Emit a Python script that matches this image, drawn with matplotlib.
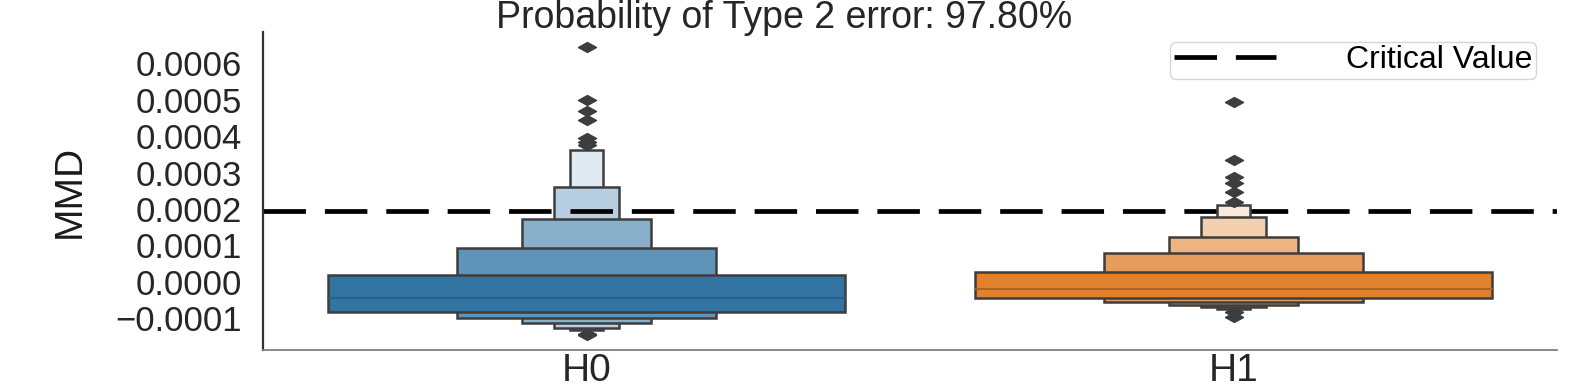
# -*- coding: UTF-8 -*-
import numpy as np
import matplotlib
matplotlib.use('Agg')
import matplotlib.pyplot as plt
from matplotlib.patches import Rectangle
from matplotlib.ticker import MultipleLocator, FuncFormatter

# 数据：每一层 letter-value 的上下界（从最内层到最外层）
groups = ['H0', 'H1']

h0_lower = [-8.2e-5, -1.00e-4, -1.14e-4, -1.26e-4, -1.33e-4]
h0_upper = [1.9e-5, 9.2e-5, 1.72e-4, 2.60e-4, 3.61e-4]
h0_median = -4.4e-5
h0_outliers = [6.46e-4, 4.99e-4, 4.70e-4, 4.44e-4, 3.94e-4, 3.85e-4, 3.76e-4,
               -1.42e-4, -1.46e-4]

h1_lower = [-4.5e-5, -5.5e-5, -6.4e-5, -7.0e-5, -7.4e-5]
h1_upper = [2.7e-5, 7.9e-5, 1.23e-4, 1.77e-4, 2.10e-4]
h1_median = -1.9e-5
h1_outliers = [4.95e-4, 3.35e-4, 2.89e-4, 2.71e-4, 2.48e-4, 2.20e-4,
               -8.4e-5, -9.6e-5]

critical_value = 0.000195
type2_error = 97.80

h0_colors = ['#3274a1', '#5f93b8', '#8aafca', '#b7cfe1', '#e0eaf2']
h1_colors = ['#e1812c', '#e79c5d', '#edb483', '#f4d0b1', '#f9e9da']

plt.rcParams['font.family'] = ['Liberation Sans', 'DejaVu Sans']

# 扁一点的菱形
flat_diamond = [(-1, 0), (0, 0.55), (1, 0), (0, -0.55), (-1, 0)]


def draw_boxen(ax, pos, lower, upper, median, outliers, colors, med_color, z):
    """
    画一组 boxen（窄的先画，宽的盖在上面）
    """
    widths = 0.8 * 0.5 ** np.arange(len(lower))
    for k in reversed(range(len(lower))):
        ax.add_patch(Rectangle((pos - widths[k] / 2, lower[k]), widths[k],
                               upper[k] - lower[k], facecolor=colors[k],
                               edgecolor='#3d3d3d', lw=1.8, zorder=z))
    ax.plot([pos - widths[0] / 2, pos + widths[0] / 2], [median, median],
            color=med_color, lw=1.3, zorder=z + 0.1)
    ax.plot([pos] * len(outliers), outliers, ls='none', marker=flat_diamond,
            color='#3d3d3d', ms=13, mec='#3d3d3d', zorder=z + 0.2)


fig = plt.figure(figsize=(15.77, 3.88), dpi=100)
ax = fig.add_axes([263 / 1577, 1 - 350 / 388, 1294 / 1577, 318 / 388])

draw_boxen(ax, 0, h0_lower, h0_upper, h0_median, h0_outliers, h0_colors, '#285d82', 1)
ax.axhline(critical_value, color='black', lw=3.4, dashes=(9, 4), zorder=2,
           label='Critical Value')
draw_boxen(ax, 1, h1_lower, h1_upper, h1_median, h1_outliers, h1_colors, '#a8611f', 3)

ax.set_xlim(-0.5, 1.5)
ax.set_ylim(-0.000187, 0.000686)
ax.set_xticks(range(len(groups)))
ax.set_xticklabels(groups)
ax.yaxis.set_major_locator(MultipleLocator(0.0001))
ax.yaxis.set_major_formatter(FuncFormatter(lambda v, p: ('%.4f' % v).replace('-', '\u2212')))
ax.tick_params(axis='both', length=0)
ax.tick_params(axis='y', labelsize=25, pad=15, labelcolor='#262626')
ax.tick_params(axis='x', labelsize=28, pad=2, labelcolor='#262626')

for side in ['top', 'right']:
    ax.spines[side].set_visible(False)
ax.spines['left'].set_color('#333333')
ax.spines['left'].set_linewidth(1.6)
ax.spines['bottom'].set_color('#808080')
ax.spines['bottom'].set_linewidth(1.3)

ax.set_ylabel('MMD', fontsize=28, labelpad=20, color='#1a1a1a')
fig.suptitle('Probability of Type 2 error: %.2f%%' % type2_error,
             fontsize=27, x=0.497, y=1.0, va='top', color='#262626')

leg = ax.legend(loc='upper right', fontsize=23, handlelength=3.2,
                handletextpad=2.2, borderpad=0.12, borderaxespad=0,
                frameon=True, bbox_to_anchor=(0.984, 0.97))
leg.get_frame().set_edgecolor('#cccccc')

fig.savefig('out.png', dpi=100)
